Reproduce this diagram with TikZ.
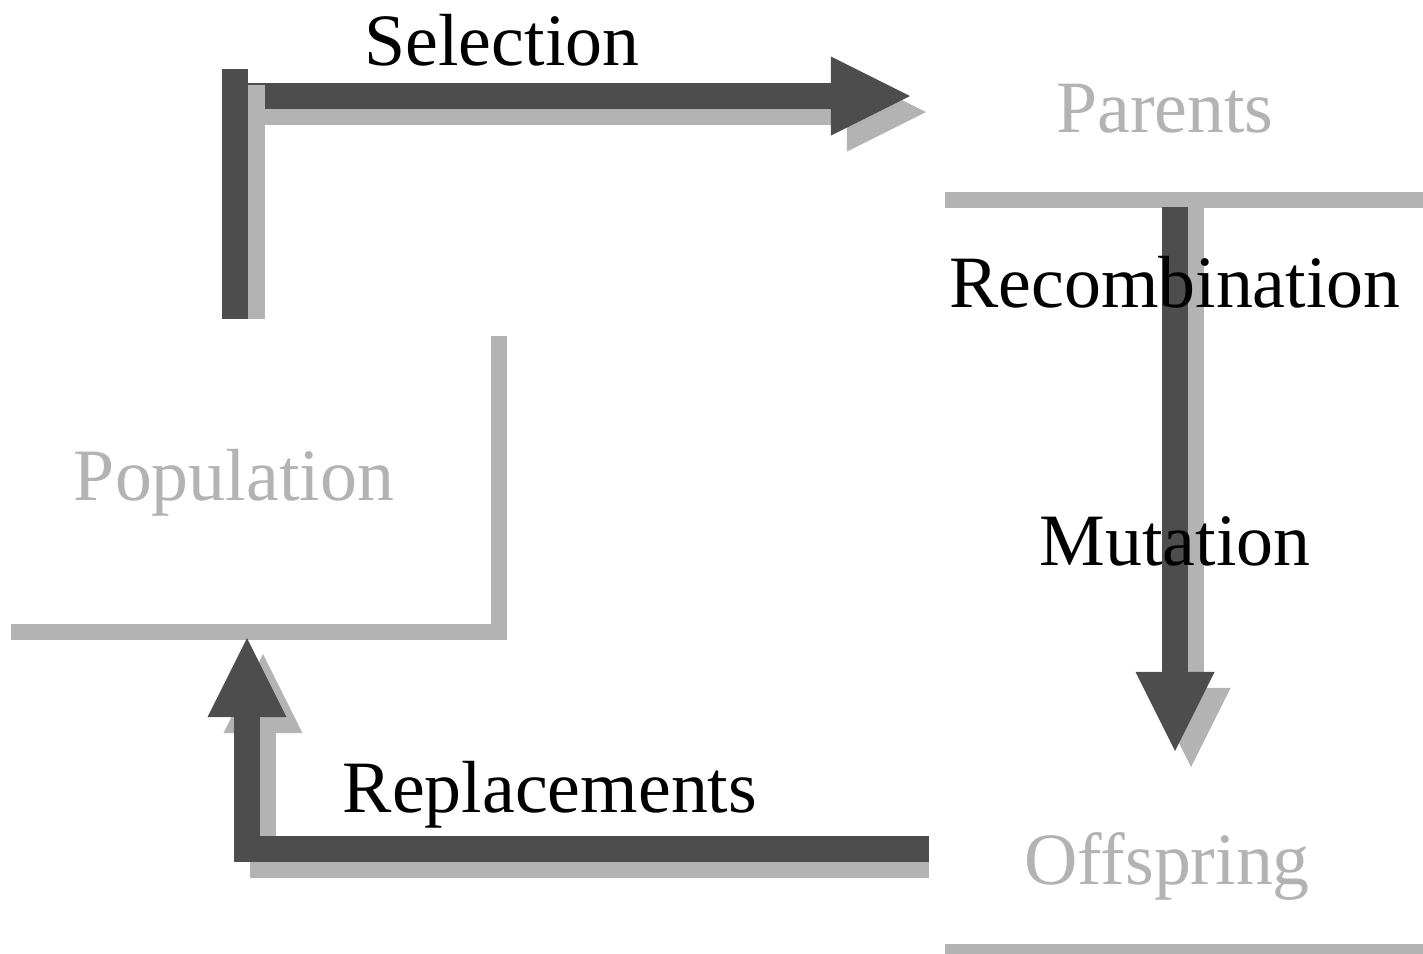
\documentclass[tikz,border=0pt]{standalone}
\usepackage{fontspec}
\setmainfont{Liberation Serif}
\usepackage{xcolor}
\definecolor{cdark}{HTML}{4D4D4D}
\definecolor{clight}{HTML}{B3B3B3}
\usepackage{tikz}
\usetikzlibrary{arrows.meta}
\tikzset{
Label/.style={
	inner sep=0pt,
	anchor=base,
	font=\fontsize{21}{25}\selectfont
},
Stage/.style={
	Label,
	text=clight
},
Action/.style={
	Label,
	text=black
},
Rule/.style={
	draw=clight,
	line width=0.156cm
},
Bar/.style={
	draw=cdark,
	line width=0.26cm
},
BarShadow/.style={
	Bar,
	draw=clight
},
Flow/.style={
	Bar,
	-{Triangle[length=0.79cm, width=0.79cm, line width=0pt]}
},
FlowShadow/.style={
	Flow,
	draw=clight
}
}

\begin{document}
\begin{tikzpicture}[x=0.01cm, y=-0.01cm]
	\path[use as bounding box, clip] (0,0) rectangle (1423,954);

	\coordinate (PopA) at (11,632);
	\coordinate (PopB) at (499,632);
	\coordinate (PopC) at (499,336);
	\coordinate (ParA) at (945,200);
	\coordinate (ParB) at (1423,200);
	\coordinate (OffA) at (945,952);
	\coordinate (OffB) at (1423,952);

	\coordinate (SelA) at (222,96);
	\coordinate (SelB) at (910,96);
	\coordinate (SelBarA) at (235,319);
	\coordinate (SelBarB) at (235,69);
	\coordinate (RecA) at (1175,207);
	\coordinate (RecB) at (1175,751);
	\coordinate (RepA) at (929,849);
	\coordinate (RepB) at (247,849);
	\coordinate (RepC) at (247,638);

	\draw[Rule] (PopA) -- (PopB) -- (PopC);
	\draw[Rule] (ParA) -- (ParB);
	\draw[Rule] (OffA) -- (OffB);

	\draw[FlowShadow] ([shift={(16,16)}]SelA) -- ([shift={(16,16)}]SelB);
	\draw[Flow] (SelA) -- (SelB);
	\draw[BarShadow] ([shift={(17,0)}]SelBarA) -- ([shift={(17,16)}]SelBarB);
	\draw[Bar] (SelBarA) -- (SelBarB);

	\draw[FlowShadow] ([shift={(16,0)}]RecA) -- ([shift={(16,16)}]RecB);
	\draw[Flow] (RecA) -- (RecB);

	\draw[FlowShadow] ([shift={(0,16)}]RepA) -- ([shift={(16,16)}]RepB) -- ([shift={(16,16)}]RepC);
	\draw[Flow] (RepA) -- (RepB) -- (RepC);

	\node[Stage] (pop) at (234,500) {Population};
	\node[Stage] (par) at (1165,132) {Parents};
	\node[Stage] (off) at (1167,884) {Offspring};
	\node[Action] (sel) at (502,65) {Selection};
	\node[Action] (rec) at (1175,307) {Recombination};
	\node[Action] (mut) at (1175,565) {Mutation};
	\node[Action] (rep) at (550,812) {Replacements};
\end{tikzpicture}
\end{document}
